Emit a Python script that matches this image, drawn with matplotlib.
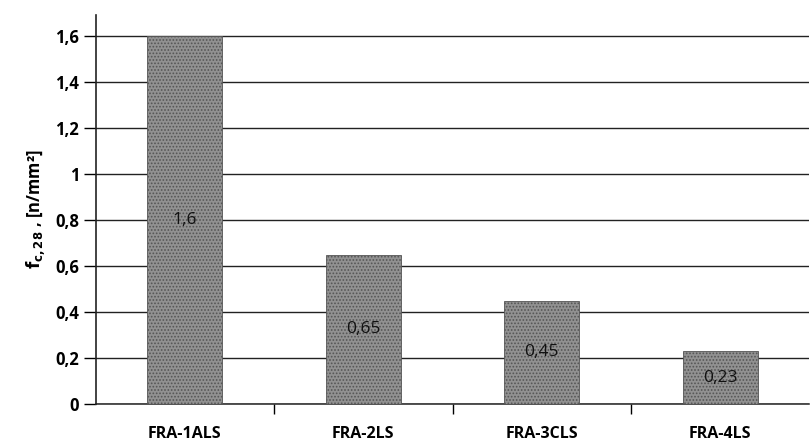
import matplotlib.pyplot as plt
import numpy as np

# compressive strength after 28 days per mix
mixes = ['FRA-1ALS', 'FRA-2LS', 'FRA-3CLS', 'FRA-4LS']
strength = [1.6, 0.65, 0.45, 0.23]
labels = ['1,6', '0,65', '0,45', '0,23']
yticks = [0, 0.2, 0.4, 0.6, 0.8, 1.0, 1.2, 1.4, 1.6]
ytick_labels = ['0', '0,2', '0,4', '0,6', '0,8', '1', '1,2', '1,4', '1,6']

plt.rcParams['font.family'] = ['Open Sans', 'DejaVu Sans']
plt.rcParams['hatch.color'] = '#555555'
plt.rcParams['hatch.linewidth'] = 0.8

fig = plt.figure(figsize=(8.11, 4.47), dpi=100)
ax = fig.add_axes([0.118, 0.096, 0.88, 0.87])

x = np.arange(len(mixes))
bars = ax.bar(x, strength, width=0.42, color='#919191', hatch='.....',
              edgecolor='#555555', linewidth=0.6, zorder=3)
ax.bar_label(bars, labels=labels, label_type='center', fontsize=12.5,
             color='#111111')

ax.set_xlim(-0.5, 3.5)
ax.set_ylim(0, 1.69)
ax.set_yticks(yticks)
ax.set_yticklabels(ytick_labels, fontsize=12, fontweight='bold')
ax.yaxis.grid(True, color='#222222', linewidth=1.0, zorder=0)
ax.set_axisbelow(True)

# category boundaries carry the tick marks, names sit between them
ax.set_xticks(np.arange(0.5, 3.5, 1.0))
ax.set_xticklabels([])
ax.set_xticks(x, minor=True)
ax.set_xticklabels(mixes, minor=True, fontsize=11.5, fontweight='bold')
ax.tick_params(axis='x', which='minor', length=0, pad=16)
ax.tick_params(axis='x', which='major', length=7, width=1, direction='out')
ax.tick_params(axis='y', length=9, width=1, direction='out', pad=3)

for side in ['top', 'right']:
    ax.spines[side].set_visible(False)
ax.spines['left'].set_color('#222222')
ax.spines['left'].set_linewidth(1.2)
ax.spines['bottom'].set_color('#222222')
ax.spines['bottom'].set_linewidth(1.1)

ax.set_ylabel(r'$\mathbf{f_{c,28}}$ , [n/mm²]', fontsize=12, fontweight='bold',
              labelpad=6)

fig.savefig('out.png', dpi=100)
